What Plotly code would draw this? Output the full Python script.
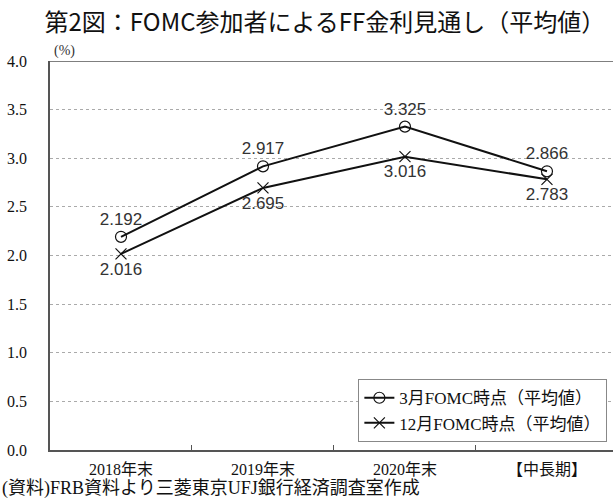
import plotly.graph_objects as go

categories = ["2018年末", "2019年末", "2020年末", "【中長期】"]
march_vals = [2.192, 2.917, 3.325, 2.866]
dec_vals = [2.016, 2.695, 3.016, 2.783]
march_name = "3月FOMC時点（平均値）"
dec_name = "12月FOMC時点（平均値）"
y_ticks = [0, 0.5, 1.0, 1.5, 2.0, 2.5, 3.0, 3.5, 4.0]

serif = "Liberation Serif, Times New Roman, serif"
sans = "Liberation Sans, Arial, sans-serif"

fig = go.Figure()
fig.add_trace(go.Scatter(
    x=categories, y=march_vals, name=march_name,
    mode="lines+markers+text",
    line=dict(color="#111", width=2),
    marker=dict(symbol="circle-open", size=11, color="#111", line=dict(width=1.2)),
    text=[f"{v:.3f}" for v in march_vals], textposition="top center",
    textfont=dict(family=sans, size=17, color="#333"),
    cliponaxis=False,
))
fig.add_trace(go.Scatter(
    x=categories, y=dec_vals, name=dec_name,
    mode="lines+markers+text",
    line=dict(color="#111", width=2),
    marker=dict(symbol="x-thin-open", size=11, color="#111", line=dict(width=1.2, color="#111")),
    text=[f"{v:.3f}" for v in dec_vals], textposition="bottom center",
    textfont=dict(family=sans, size=17, color="#333"),
    cliponaxis=False,
))

fig.update_layout(
    width=613, height=502,
    margin=dict(l=50, r=0, t=61, b=52),
    paper_bgcolor="white", plot_bgcolor="white",
    title=dict(text="第2図：FOMC参加者によるFF金利見通し（平均値）",
               x=0.53, xanchor="center", y=0.955, yanchor="middle",
               font=dict(family="Noto Sans CJK JP", size=24, color="#111")),
    showlegend=True,
    legend=dict(x=0.99, xanchor="right", y=0.02, yanchor="bottom",
                bordercolor="#888", borderwidth=1, bgcolor="white",
                font=dict(family=serif + ", Noto Sans CJK JP", size=17, color="#111"),
                itemwidth=30, tracegroupgap=0),
    xaxis=dict(
        type="category", range=[-0.5, 3.465],
        showline=True, linecolor="#555", linewidth=1.5,
        ticks="inside", ticklen=5, tickcolor="#555", tickson="boundaries",
        showgrid=False, ticklabelstandoff=4,
        tickfont=dict(family=serif + ", Noto Sans CJK JP", size=16, color="#111"),
    ),
    yaxis=dict(
        range=[0, 4.0], tickvals=y_ticks, ticktext=[f"{v:.1f}" for v in y_ticks],
        showline=True, linecolor="#555", linewidth=1.5,
        showgrid=True, gridcolor="#aaa", griddash="dot", gridwidth=1,
        zeroline=False, ticks="", ticklabelstandoff=18,
        tickfont=dict(family=serif, size=16, color="#111"),
    ),
    shapes=[dict(type="line", xref="paper", yref="y", x0=0, x1=1, y0=4.0, y1=4.0,
                 line=dict(color="#555", width=1.5))],
    annotations=[
        dict(text="(%)", xref="paper", yref="paper", x=0.003, y=1.0, xanchor="left", yanchor="bottom",
             showarrow=False, font=dict(family=serif, size=14, color="#333")),
        dict(text="(資料)FRB資料より三菱東京UFJ銀行経済調査室作成", xref="paper", yref="paper",
             x=-0.089, y=-0.068, xanchor="left", yanchor="top", showarrow=False,
             font=dict(family=serif + ", Noto Sans CJK JP", size=18, color="#111")),
    ],
)

fig.write_html("out.html", config={"displayModeBar": False},
               post_script="document.body.style.margin='0';document.body.style.overflow='hidden';")
